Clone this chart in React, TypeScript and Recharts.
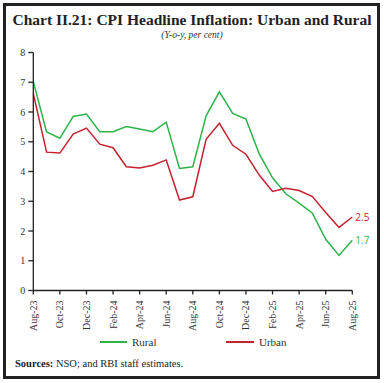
import { LineChart, Line, XAxis, YAxis, LabelList } from "recharts";

const months = [
  "Aug-23", "Sep-23", "Oct-23", "Nov-23", "Dec-23", "Jan-24", "Feb-24", "Mar-24", "Apr-24",
  "May-24", "Jun-24", "Jul-24", "Aug-24", "Sep-24", "Oct-24", "Nov-24", "Dec-24", "Jan-25",
  "Feb-25", "Mar-25", "Apr-25", "May-25", "Jun-25", "Jul-25", "Aug-25"
];

const rural = [
  7.02, 5.33, 5.12, 5.85, 5.93, 5.34, 5.34, 5.51, 5.43, 5.34, 5.66, 4.1, 4.16,
  5.87, 6.68, 5.95, 5.76, 4.59, 3.79, 3.25, 2.94, 2.6, 1.72, 1.18, 1.69
];

const urban = [
  6.62, 4.65, 4.62, 5.26, 5.46, 4.92, 4.8, 4.16, 4.12, 4.21, 4.39, 3.04, 3.15,
  5.08, 5.62, 4.88, 4.58, 3.88, 3.33, 3.44, 3.36, 3.16, 2.62, 2.12, 2.47
];

const yTicks = [0, 1, 2, 3, 4, 5, 6, 7, 8];

const data = months.map((m, i) => ({ month: m, rural: rural[i], urban: urban[i] }));

const GREEN = "#2db34a";
const RED = "#c4212f";
const serif = "'Liberation Serif', 'DejaVu Serif', serif";

const XTick = ({ x, y, payload }: any) => (
  <text
    transform={`translate(${x},${y + 4}) rotate(-90)`}
    textAnchor="end"
    dominantBaseline="central"
    fontSize={10}
    fontFamily={serif}
    fill="#333"
  >
    {payload.value}
  </text>
);

const lastLabel = (color: string) => (props: any) => {
  const { x, y, index, value } = props;
  if (index !== months.length - 1) return null;
  return (
    <text x={x + 3} y={y} dominantBaseline="central" fontSize={10} fontFamily="'Open Sans', sans-serif" fill={color}>
      {Number(value).toFixed(1)}
    </text>
  );
};

export default function App() {
  return (
    <div style={{ position: "absolute", left: 0, top: 0, width: 384, height: 383, background: "#fff", fontFamily: serif }}>
      <div
        style={{
          position: "absolute", left: 3, top: 3, width: 371, height: 370,
          border: "3px solid #222"
        }}
      />
      <div style={{ position: "absolute", left: 0, width: 384, top: 11, textAlign: "center", fontSize: 15.5, fontWeight: "bold", color: "#222", whiteSpace: "nowrap" }}>
        Chart II.21: CPI Headline Inflation: Urban and Rural
      </div>
      <div style={{ position: "absolute", left: 0, width: 384, top: 30, textAlign: "center", fontSize: 9.5, fontStyle: "italic", color: "#333" }}>
        (Y-o-y, per cent)
      </div>
      <div style={{ position: "absolute", left: 0, top: 0 }}>
        <LineChart width={384} height={383} data={data} margin={{ top: 52.5, right: 31.7, left: 0, bottom: 52.5 }}>
          <XAxis
            dataKey="month"
            interval={1}
            tick={<XTick />}
            tickSize={4}
            height={40}
            stroke="#222"
            strokeWidth={1.3}
          />
          <YAxis
            domain={[0, 8]}
            ticks={yTicks}
            width={33.3}
            tickSize={5}
            tickMargin={3}
            stroke="#222"
            strokeWidth={1.3}
            tick={{ fontSize: 10, fontFamily: serif, fill: "#333" }}
          />
          <Line dataKey="rural" stroke={GREEN} strokeWidth={1.5} dot={false} isAnimationActive={false}>
            <LabelList dataKey="rural" content={lastLabel(GREEN)} />
          </Line>
          <Line dataKey="urban" stroke={RED} strokeWidth={1.5} dot={false} isAnimationActive={false}>
            <LabelList dataKey="urban" content={lastLabel(RED)} />
          </Line>
        </LineChart>
      </div>
      <div style={{ position: "absolute", top: 336, left: 100, fontSize: 11, color: "#333", display: "flex", alignItems: "center" }}>
        <span style={{ display: "inline-block", width: 27, height: 2, background: GREEN, marginRight: 5 }} />
        <span>Rural</span>
      </div>
      <div style={{ position: "absolute", top: 336, left: 226, fontSize: 11, color: "#333", display: "flex", alignItems: "center" }}>
        <span style={{ display: "inline-block", width: 28, height: 2, background: RED, marginRight: 5 }} />
        <span>Urban</span>
      </div>
      <div style={{ position: "absolute", top: 358, left: 15, fontSize: 10.5, color: "#222" }}>
        <b>Sources:</b> NSO; and RBI staff estimates.
      </div>
    </div>
  );
}
